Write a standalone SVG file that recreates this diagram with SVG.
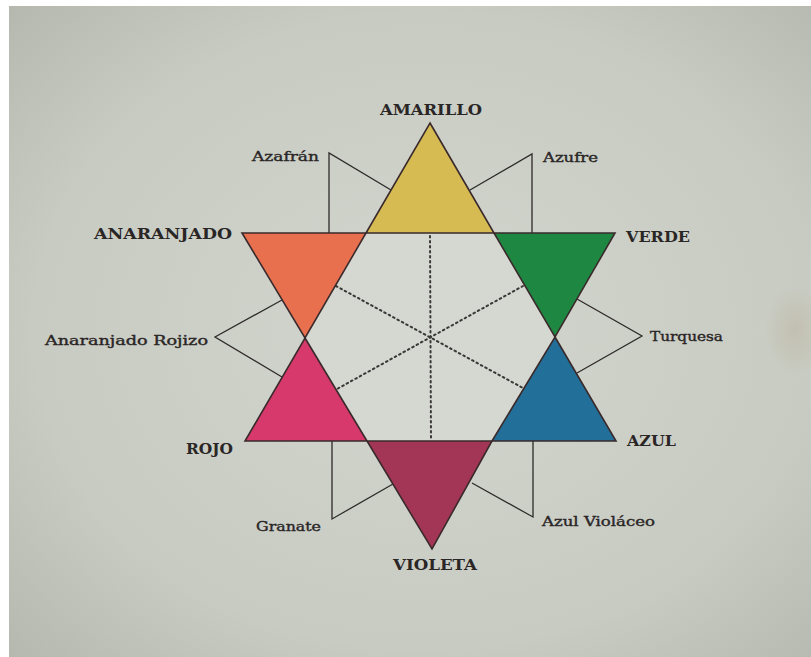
<svg xmlns="http://www.w3.org/2000/svg" width="811" height="657" viewBox="0 0 811 657">
  <defs>
    <radialGradient id="bg" cx="0.52" cy="0.5" r="0.75">
      <stop offset="0" stop-color="#d3d6ce"/>
      <stop offset="0.65" stop-color="#c8cbc2"/>
      <stop offset="1" stop-color="#b3b6ac"/>
    </radialGradient>
    <radialGradient id="stain" cx="0.5" cy="0.5" r="0.5">
      <stop offset="0" stop-color="#bdb6a2" stop-opacity="0.55"/>
      <stop offset="1" stop-color="#bdb6a2" stop-opacity="0"/>
    </radialGradient>
    <style>
      .tri { stroke: #3a2a2c; stroke-width: 1.6; stroke-linejoin: miter; }
      .ln { fill: none; stroke: #2e2a2a; stroke-width: 1.3; }
      .dot { fill: none; stroke: #3a3838; stroke-width: 2; stroke-dasharray: 1.6 3.4; stroke-linecap: round; }
      .cap { font-family: "DejaVu Serif", "Liberation Serif", serif; font-weight: bold; font-size: 14.5px; fill: #2a2626; }
      .low { font-family: "DejaVu Serif", "Liberation Serif", serif; font-size: 13.5px; fill: #2a2626; stroke: #2a2626; stroke-width: 0.4; }
    </style>
  </defs>

  <rect x="0" y="0" width="811" height="657" fill="#ffffff"/>
  <rect x="9" y="6" width="802" height="651" fill="url(#bg)"/>
  <ellipse cx="795" cy="330" rx="30" ry="45" fill="url(#stain)"/>

  <g id="hexagon">
    <polygon points="366,233 494,233 555,337 492,441 367,441 305,338" fill="#d5d8d0"/>
  </g>

  <g id="connectors">
    <line class="dot" x1="430" y1="236" x2="431" y2="440"/>
    <line class="dot" x1="336" y1="286" x2="523" y2="388"/>
    <line class="dot" x1="523" y1="286" x2="337" y2="389"/>
    <polyline class="ln" points="329,233 329,153 391,190"/>
    <polyline class="ln" points="532,233 532,154 470,190"/>
    <polyline class="ln" points="282,300 215,337 282,377"/>
    <polyline class="ln" points="577,299 642,336 577,373"/>
    <polyline class="ln" points="332,441 332,519 393,484"/>
    <polyline class="ln" points="533,441 533,517 472,483"/>
  </g>

  <g id="amarillo">
    <polygon class="tri" points="430,123 494,233 366,233" fill="#d6bb52"/>
    <text class="cap" x="380" y="115" textLength="102" lengthAdjust="spacingAndGlyphs">AMARILLO</text>
  </g>
  <g id="anaranjado">
    <polygon class="tri" points="242,233 366,233 305,338" fill="#e8704e"/>
    <text class="cap" x="94" y="239" textLength="138" lengthAdjust="spacingAndGlyphs">ANARANJADO</text>
  </g>
  <g id="verde">
    <polygon class="tri" points="494,233 615,233 555,337" fill="#1e8842"/>
    <text class="cap" x="626" y="242" textLength="64" lengthAdjust="spacingAndGlyphs">VERDE</text>
  </g>
  <g id="rojo">
    <polygon class="tri" points="305,338 367,441 245,441" fill="#d7396c"/>
    <text class="cap" x="186" y="454" textLength="47" lengthAdjust="spacingAndGlyphs">ROJO</text>
  </g>
  <g id="azul">
    <polygon class="tri" points="555,337 616,441 492,441" fill="#22709a"/>
    <text class="cap" x="627" y="446" textLength="49" lengthAdjust="spacingAndGlyphs">AZUL</text>
  </g>
  <g id="violeta">
    <polygon class="tri" points="367,441 492,441 432,549" fill="#a33557"/>
    <text class="cap" x="393" y="570" textLength="84" lengthAdjust="spacingAndGlyphs">VIOLETA</text>
  </g>

  <g id="azafran"><text class="low" x="252" y="161" textLength="67" lengthAdjust="spacingAndGlyphs">Azafrán</text></g>
  <g id="azufre"><text class="low" x="543" y="162" textLength="55" lengthAdjust="spacingAndGlyphs">Azufre</text></g>
  <g id="anaranjado-rojizo"><text class="low" x="45" y="345" textLength="163" lengthAdjust="spacingAndGlyphs">Anaranjado Rojizo</text></g>
  <g id="turquesa"><text class="low" x="650" y="341" textLength="73" lengthAdjust="spacingAndGlyphs">Turquesa</text></g>
  <g id="granate"><text class="low" x="256" y="531" textLength="65" lengthAdjust="spacingAndGlyphs">Granate</text></g>
  <g id="azul-violaceo"><text class="low" x="542" y="526" textLength="113" lengthAdjust="spacingAndGlyphs">Azul Violáceo</text></g>
</svg>
